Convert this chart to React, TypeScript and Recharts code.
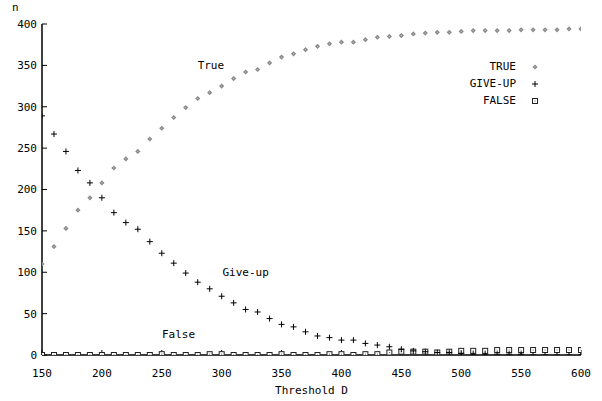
import { ScatterChart, Scatter, XAxis, YAxis, ReferenceDot, Label } from 'recharts';

const thresholds = [
  150, 160, 170, 180, 190, 200, 210, 220, 230, 240, 250, 260, 270, 280, 290, 300,
  310, 320, 330, 340, 350, 360, 370, 380, 390, 400, 410, 420, 430, 440, 450, 460,
  470, 480, 490, 500, 510, 520, 530, 540, 550, 560, 570, 580, 590, 600,
];

const trueCounts = [
  110, 131, 153, 175, 190, 208, 226, 237, 246, 261, 274, 287, 299, 310, 317, 325,
  334, 342, 345, 353, 360, 364, 369, 373, 376, 378, 378, 381, 384, 385, 386, 388,
  389, 390, 390, 391, 392, 392, 392, 392, 393, 393, 393, 393, 394, 394,
];

const giveUpCounts = [
  289, 267, 246, 223, 208, 190, 172, 160, 152, 137, 123, 111, 99, 88, 80, 71,
  63, 55, 52, 44, 37, 34, 28, 23, 21, 18, 18, 14, 12, 10, 7, 5,
  4, 3, 3, 2, 1, 1, 1, 1, 1, 0, 0, 0, 0, 0,
];

const falseCounts = [
  0, 0, 0, 0, 0, 0, 0, 0, 0, 0, 1, 0, 0, 0, 1, 1,
  0, 0, 0, 0, 1, 0, 0, 0, 1, 1, 0, 1, 1, 3, 4, 4,
  4, 3, 4, 5, 5, 5, 6, 6, 6, 6, 6, 6, 6, 6,
];

const xTicks = [150, 200, 250, 300, 350, 400, 450, 500, 550, 600];
const yTicks = [0, 50, 100, 150, 200, 250, 300, 350, 400];

const trueData = thresholds.map((x, i) => ({ x, y: trueCounts[i] }));
const giveUpData = thresholds.map((x, i) => ({ x, y: giveUpCounts[i] }));
const falseData = thresholds.map((x, i) => ({ x, y: falseCounts[i] }));

const FONT = '"DejaVu Sans Mono", monospace';
const tickStyle = { fill: '#000', fontSize: 11, fontFamily: FONT };

const Diamond = ({ cx, cy }: any) => (
  <g>
    <path d={`M${cx},${cy - 2.6}L${cx + 2.6},${cy}L${cx},${cy + 2.6}L${cx - 2.6},${cy}Z`} fill="#8a8a8a" />
    <rect x={cx - 0.5} y={cy - 0.5} width={1} height={1} fill="#c8c8c8" />
  </g>
);

const Plus = ({ cx, cy }: any) => (
  <path d={`M${cx - 3},${cy}H${cx + 3}M${cx},${cy - 3}V${cy + 3}`} stroke="#000" strokeWidth={1} />
);

const Box = ({ cx, cy }: any) => (
  <g>
    <rect x={cx - 2.5} y={cy - 2.5} width={5} height={5} fill="#fff" stroke="#222" strokeWidth={1} />
    <rect x={cx - 0.5} y={cy - 0.5} width={1} height={1} fill="#555" />
  </g>
);

const legendRows = [
  { name: 'TRUE', icon: 'diamond' },
  { name: 'GIVE-UP', icon: 'plus' },
  { name: 'FALSE', icon: 'box' },
];

function LegendIcon({ icon }: { icon: string }) {
  return (
    <svg width={8} height={8} style={{ display: 'block' }}>
      {icon === 'diamond' && <Diamond cx={4} cy={4} />}
      {icon === 'plus' && <Plus cx={4} cy={4} />}
      {icon === 'box' && <Box cx={4} cy={4} />}
    </svg>
  );
}

export default function App() {
  return (
    <div style={{ position: 'relative', width: 602, height: 401, background: '#fff' }}>
      <style>{'body{margin:0}'}</style>
      <ScatterChart width={602} height={401} margin={{ top: 24, right: 21, bottom: 6, left: 2 }}>
        <XAxis
          type="number"
          dataKey="x"
          domain={[150, 600]}
          ticks={xTicks}
          height={40}
          tickSize={-5}
          tickMargin={19}
          tick={tickStyle}
          axisLine={{ stroke: '#000', strokeWidth: 1.5 }}
          tickLine={{ stroke: '#000' }}
          allowDataOverflow
        >
          <Label value="Threshold D" position="insideBottom" offset={1} style={{ fontSize: 11, fontFamily: FONT, fill: '#000' }} />
        </XAxis>
        <XAxis
          xAxisId="top"
          orientation="top"
          type="number"
          dataKey="x"
          domain={[150, 600]}
          ticks={xTicks}
          height={0}
          tickSize={-5}
          tickFormatter={() => ''}
          axisLine={{ stroke: '#000', strokeWidth: 1.5 }}
          tickLine={{ stroke: '#000' }}
        />
        <YAxis
          type="number"
          dataKey="y"
          domain={[0, 400]}
          ticks={yTicks}
          width={40}
          tickSize={-5}
          tickMargin={10}
          tick={tickStyle}
          axisLine={{ stroke: '#000', strokeWidth: 1.5 }}
          tickLine={{ stroke: '#000' }}
          allowDataOverflow
        />
        <YAxis
          yAxisId="right"
          orientation="right"
          type="number"
          dataKey="y"
          domain={[0, 400]}
          ticks={yTicks}
          width={0}
          tickSize={-5}
          tickFormatter={() => ''}
          axisLine={{ stroke: '#000', strokeWidth: 1.5 }}
          tickLine={{ stroke: '#000' }}
        />
        <Scatter name="FALSE" data={falseData} shape={Box} isAnimationActive={false} />
        <Scatter name="GIVE-UP" data={giveUpData} shape={Plus} isAnimationActive={false} />
        <Scatter name="TRUE" data={trueData} shape={Diamond} isAnimationActive={false} />
        <ReferenceDot x={291} y={350} r={0} fill="none" stroke="none">
          <Label value="True" position="center" style={{ fontSize: 11, fontFamily: FONT, fill: '#000' }} />
        </ReferenceDot>
        <ReferenceDot x={320} y={100} r={0} fill="none" stroke="none">
          <Label value="Give-up" position="center" style={{ fontSize: 11, fontFamily: FONT, fill: '#000' }} />
        </ReferenceDot>
        <ReferenceDot x={264} y={25} r={0} fill="none" stroke="none">
          <Label value="False" position="center" style={{ fontSize: 11, fontFamily: FONT, fill: '#000' }} />
        </ReferenceDot>
      </ScatterChart>
      <div style={{ position: 'absolute', left: 12, top: 1, fontSize: 11, fontFamily: FONT }}>n</div>
      <div style={{ position: 'absolute', right: 63, top: 58, fontFamily: FONT, fontSize: 11 }}>
        {legendRows.map((r) => (
          <div key={r.name} style={{ display: 'flex', alignItems: 'center', justifyContent: 'flex-end', height: 17 }}>
            <span>{r.name}</span>
            <span style={{ marginLeft: 15 }}>
              <LegendIcon icon={r.icon} />
            </span>
          </div>
        ))}
      </div>
    </div>
  );
}
